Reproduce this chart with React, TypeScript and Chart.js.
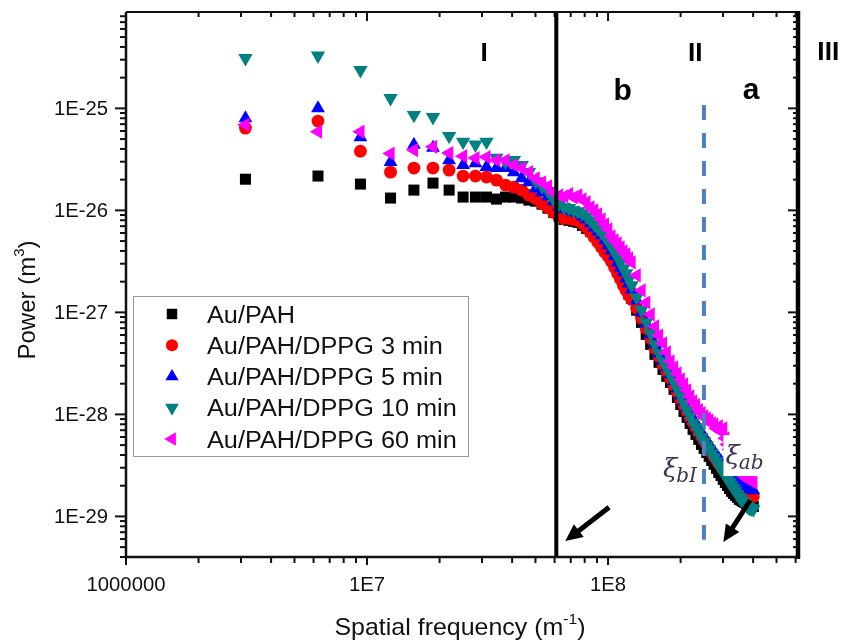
import React, { useEffect, useRef } from 'react';
import { Chart, registerables } from 'chart.js';
Chart.register(...registerables);

// ---------- data ----------
const frequency = [
  3.13e6, 6.26e6, 9.39e6, 1.252e7, 1.565e7, 1.878e7, 2.191e7, 2.504e7, 2.817e7, 3.13e7,
  3.443e7, 3.756e7, 4.069e7, 4.382e7, 4.695e7, 5.008e7, 5.321e7, 5.634e7, 5.947e7, 6.26e7,
  6.573e7, 6.886e7, 7.199e7, 7.512e7, 7.825e7, 8.138e7, 8.451e7, 8.764e7, 9.077e7, 9.39e7,
  9.703e7, 1.0016e8, 1.0329e8, 1.0642e8, 1.0955e8, 1.1268e8, 1.1581e8, 1.1894e8, 1.2207e8, 1.252e8,
  1.3146e8, 1.3772e8, 1.4398e8, 1.5024e8, 1.565e8, 1.6276e8, 1.6902e8, 1.7528e8, 1.8154e8, 1.878e8,
  1.9406e8, 2.0032e8, 2.0658e8, 2.1284e8, 2.191e8, 2.2536e8, 2.3162e8, 2.3788e8, 2.4414e8, 2.504e8,
  2.5666e8, 2.6292e8, 2.6918e8, 2.7544e8, 2.817e8, 2.8796e8, 2.9422e8, 3.0048e8, 3.0674e8, 3.13e8,
  3.1926e8, 3.2552e8, 3.3178e8, 3.3804e8, 3.443e8, 3.5056e8, 3.5682e8, 3.6308e8, 3.6934e8, 3.756e8,
  3.8186e8, 3.8812e8, 3.9438e8, 4.0064e8,
];

const powerAuPAH = [
  2.02e-26, 2.17e-26, 1.81e-26, 1.32e-26, 1.58e-26, 1.85e-26, 1.58e-26, 1.35e-26, 1.35e-26, 1.35e-26,
  1.29e-26, 1.35e-26, 1.35e-26, 1.32e-26, 1.26e-26, 1.23e-26, 1.15e-26, 1.05e-26, 9.56e-27, 8.73e-27,
  8.16e-27, 7.98e-27, 7.8e-27, 7.63e-27, 7.13e-27, 6.66e-27, 6.22e-27, 5.69e-27, 5.2e-27, 4.75e-27,
  4.24e-27, 3.79e-27, 3.38e-27, 2.96e-27, 2.58e-27, 2.25e-27, 1.97e-27, 1.72e-27, 1.5e-27, 1.37e-27,
  1.05e-27, 7.98e-28, 6.09e-28, 4.86e-28, 3.88e-28, 3.24e-28, 2.76e-28, 2.36e-28, 2.06e-28, 1.76e-28,
  1.47e-28, 1.25e-28, 1.07e-28, 9.35e-29, 8.16e-29, 7.13e-29, 6.37e-29, 5.69e-29, 5.08e-29, 4.64e-29,
  4.24e-29, 3.88e-29, 3.54e-29, 3.24e-29, 2.96e-29, 2.7e-29, 2.52e-29, 2.31e-29, 2.15e-29, 2.01e-29,
  1.88e-29, 1.76e-29, 1.68e-29, 1.61e-29, 1.54e-29, 1.47e-29, 1.44e-29, 1.4e-29, 1.37e-29, 1.34e-29,
  1.31e-29, 1.28e-29, 1.28e-29, 1.25e-29,
];
const powerDPPG3 = [
  6.4e-26, 7.5e-26, 3.8e-26, 2.37e-26, 2.6e-26, 2.6e-26, 2.48e-26, 2.17e-26, 2.17e-26, 2.12e-26,
  1.98e-26, 1.77e-26, 1.69e-26, 1.58e-26, 1.41e-26, 1.31e-26, 1.17e-26, 1.07e-26, 9.56e-27, 8.73e-27,
  8.35e-27, 8.35e-27, 8.16e-27, 7.98e-27, 7.46e-27, 6.81e-27, 6.09e-27, 5.44e-27, 4.86e-27, 4.34e-27,
  3.88e-27, 3.54e-27, 3.16e-27, 2.76e-27, 2.41e-27, 2.11e-27, 1.84e-27, 1.64e-27, 1.47e-27, 1.34e-27,
  1.1e-27, 8.73e-28, 6.97e-28, 5.56e-28, 4.44e-28, 3.7e-28, 3.09e-28, 2.64e-28, 2.25e-28, 1.92e-28,
  1.64e-28, 1.4e-28, 1.23e-28, 1.07e-28, 9.35e-29, 8.35e-29, 7.46e-29, 6.66e-29, 6.09e-29, 5.56e-29,
  5.08e-29, 4.64e-29, 4.24e-29, 3.88e-29, 3.62e-29, 3.31e-29, 3.09e-29, 2.89e-29, 2.7e-29, 2.52e-29,
  2.36e-29, 2.25e-29, 2.11e-29, 2.01e-29, 1.92e-29, 1.84e-29, 1.8e-29, 1.76e-29, 1.72e-29, 1.68e-29,
  1.64e-29, 1.61e-29, 1.61e-29, 1.57e-29,
];
const powerDPPG5 = [
  8.0e-26, 1.0e-25, 5.2e-26, 2.98e-26, 4.4e-26, 4.1e-26, 3.1e-26, 2.78e-26, 2.9e-26, 2.66e-26,
  2.6e-26, 2.6e-26, 2.37e-26, 2.07e-26, 1.89e-26, 1.64e-26, 1.5e-26, 1.37e-26, 1.23e-26, 1.1e-26,
  1.03e-26, 1.0e-26, 9.56e-27, 9.35e-27, 8.73e-27, 8.16e-27, 7.46e-27, 6.81e-27, 6.22e-27, 5.69e-27,
  5.08e-27, 4.54e-27, 4.05e-27, 3.54e-27, 3.09e-27, 2.76e-27, 2.47e-27, 2.15e-27, 1.92e-27, 1.68e-27,
  1.31e-27, 1.0e-27, 7.8e-28, 6.09e-28, 4.86e-28, 3.97e-28, 3.38e-28, 2.89e-28, 2.47e-28, 2.11e-28,
  1.8e-28, 1.54e-28, 1.34e-28, 1.17e-28, 1.03e-28, 9.14e-29, 8.16e-29, 7.29e-29, 6.51e-29, 5.95e-29,
  5.44e-29, 4.97e-29, 4.64e-29, 4.24e-29, 3.97e-29, 3.7e-29, 3.46e-29, 3.24e-29, 3.02e-29, 2.89e-29,
  2.7e-29, 2.58e-29, 2.47e-29, 2.36e-29, 2.25e-29, 2.2e-29, 2.11e-29, 2.06e-29, 2.01e-29, 1.97e-29,
  1.92e-29, 1.88e-29, 1.84e-29, 1.8e-29,
];
const powerDPPG10 = [
  3.11e-25, 3.28e-25, 2.37e-25, 1.26e-25, 8.6e-26, 8.2e-26, 5.35e-26, 4.7e-26, 4.4e-26, 4.7e-26,
  3.26e-26, 2.98e-26, 3.1e-26, 2.78e-26, 2.37e-26, 1.92e-26, 1.72e-26, 1.54e-26, 1.28e-26, 1.15e-26,
  1.07e-26, 1.05e-26, 1.0e-26, 9.78e-27, 9.35e-27, 8.73e-27, 7.98e-27, 7.29e-27, 6.66e-27, 6.09e-27,
  5.56e-27, 4.97e-27, 4.44e-27, 3.88e-27, 3.46e-27, 3.09e-27, 2.7e-27, 2.41e-27, 2.11e-27, 1.84e-27,
  1.4e-27, 1.05e-27, 7.98e-28, 6.22e-28, 4.86e-28, 3.97e-28, 3.31e-28, 2.83e-28, 2.41e-28, 2.06e-28,
  1.76e-28, 1.5e-28, 1.28e-28, 1.1e-28, 9.56e-29, 8.35e-29, 7.46e-29, 6.66e-29, 5.95e-29, 5.44e-29,
  4.97e-29, 4.54e-29, 4.15e-29, 3.79e-29, 3.46e-29, 3.16e-29, 2.96e-29, 2.7e-29, 2.52e-29, 2.31e-29,
  2.15e-29, 2.01e-29, 1.88e-29, 1.76e-29, 1.64e-29, 1.54e-29, 1.47e-29, 1.4e-29, 1.34e-29, 1.28e-29,
  1.23e-29, 1.2e-29, 1.2e-29, 1.17e-29,
];
const powerDPPG60 = [
  6.9e-26, 5.9e-26, 5.9e-26, 3.6e-26, 3.9e-26, 4.2e-26, 3.65e-26, 3.4e-26, 3.26e-26, 3.33e-26,
  3.1e-26, 3.1e-26, 2.78e-26, 2.6e-26, 2.37e-26, 2.06e-26, 1.88e-26, 1.72e-26, 1.5e-26, 1.4e-26,
  1.37e-26, 1.44e-26, 1.34e-26, 1.4e-26, 1.28e-26, 1.2e-26, 1.07e-26, 1.0e-26, 9.14e-27, 8.16e-27,
  7.29e-27, 6.51e-27, 5.56e-27, 5.08e-27, 4.75e-27, 4.34e-27, 3.97e-27, 3.7e-27, 3.38e-27, 3.09e-27,
  2.31e-27, 1.64e-27, 1.25e-27, 9.56e-28, 7.29e-28, 5.95e-28, 4.97e-28, 4.05e-28, 3.31e-28, 2.89e-28,
  2.52e-28, 2.2e-28, 1.97e-28, 1.72e-28, 1.5e-28, 1.34e-28, 1.23e-28, 1.1e-28, 1.03e-28, 9.56e-29,
  9.14e-29, 8.73e-29, 8.16e-29, 7.98e-29, 7.29e-29, 7.63e-29, 6.81e-29, 7.29e-29, 5.82e-29, 5.08e-29,
  4.54e-29, 4.05e-29, 3.7e-29, 3.38e-29, 3.09e-29, 2.89e-29, 2.7e-29, 2.58e-29, 2.47e-29, 2.36e-29,
  2.31e-29, 2.25e-29, 2.2e-29, 2.15e-29,
];

const seriesNames = ['Au/PAH', 'Au/PAH/DPPG 3 min', 'Au/PAH/DPPG 5 min', 'Au/PAH/DPPG 10 min', 'Au/PAH/DPPG 60 min'];
const seriesValues = [powerAuPAH, powerDPPG3, powerDPPG5, powerDPPG10, powerDPPG60];

const xTickValues = [1e6, 1e7, 1e8];
const xTickLabels = ['1000000', '1E7', '1E8'];
const yTickValues = [1e-25, 1e-26, 1e-27, 1e-28, 1e-29];
const yTickLabels = ['1E-25', '1E-26', '1E-27', '1E-28', '1E-29'];

const xRange = [1e6, 6.14e8];
const yRange = [4.0e-30, 8.8e-25];

// region boundaries and annotations (data coordinates)
const boundaryI_II = 6.1e7;
const boundaryBA = 2.5e8;
const boundaryBAspan = [1.08e-25, 5.9e-30];
const regionLabels = [
  { text: 'I', x: 3.06e7, y: 2.91e-25 },
  { text: 'II', x: 2.3e8, y: 2.91e-25 },
  { text: 'III', x: 8.2e8, y: 2.98e-25 },
];
const subRegionLabels = [
  { text: 'b', x: 1.15e8, y: 1.2e-25 },
  { text: 'a', x: 3.92e8, y: 1.23e-25 },
];
const arrowList = [
  { x1: 1.01e8, y1: 1.23e-29, x2: 6.65e7, y2: 5.73e-30 },
  { x1: 3.89e8, y1: 1.44e-29, x2: 3.01e8, y2: 5.6e-30 },
];
const xiLabels = [
  { sub: 'bI', x: 1.69e8, y: 2.45e-29, box: false },
  { sub: 'ab', x: 3.07e8, y: 3.26e-29, box: true },
];

// ---------- styles ----------
const seriesStyles = [
  { color: '#000000', shape: 'rect', radius: 7.8, rotation: 0 },
  { color: '#ff0000', shape: 'circle', radius: 6.4, rotation: 0 },
  { color: '#0000ff', shape: 'triangle', radius: 8, rotation: 0 },
  { color: '#008080', shape: 'triangle', radius: 8.3, rotation: 180 },
  { color: '#ff00ff', shape: 'triangle', radius: 8.2, rotation: 270 },
];

const SANS = "'Liberation Sans', Arial, Helvetica, sans-serif";

function drawShape(ctx: CanvasRenderingContext2D, shape: string, x: number, y: number, r: number, rotDeg: number) {
  ctx.beginPath();
  if (shape === 'circle') {
    ctx.arc(x, y, r, 0, Math.PI * 2);
  } else if (shape === 'rect') {
    const h = r * Math.SQRT1_2;
    ctx.rect(x - h, y - h, 2 * h, 2 * h);
  } else {
    let rad = (rotDeg * Math.PI) / 180;
    ctx.moveTo(x + Math.sin(rad) * r, y - Math.cos(rad) * r);
    rad += (2 * Math.PI) / 3;
    ctx.lineTo(x + Math.sin(rad) * r, y - Math.cos(rad) * r);
    rad += (2 * Math.PI) / 3;
    ctx.lineTo(x + Math.sin(rad) * r, y - Math.cos(rad) * r);
    ctx.closePath();
  }
  ctx.fill();
}

type Part = { t: string; font: string; dy?: number };
function richText(ctx: CanvasRenderingContext2D, parts: Part[], x: number, y: number, align: string, sx = 1) {
  ctx.save();
  ctx.translate(x, y);
  ctx.scale(sx, 1);
  let total = 0;
  for (const p of parts) {
    ctx.font = p.font;
    total += ctx.measureText(p.t).width;
  }
  let cx = align === 'center' ? -total / 2 : align === 'right' ? -total : 0;
  ctx.textAlign = 'left';
  ctx.textBaseline = 'alphabetic';
  for (const p of parts) {
    ctx.font = p.font;
    ctx.fillText(p.t, cx, p.dy || 0);
    cx += ctx.measureText(p.t).width;
  }
  ctx.restore();
}

function logTicks(min: number, max: number) {
  const out: { v: number; major: boolean }[] = [];
  const d0 = Math.floor(Math.log10(min));
  const d1 = Math.ceil(Math.log10(max));
  for (let d = d0; d <= d1; d++) {
    for (let m = 1; m <= 9; m++) {
      const v = m * Math.pow(10, d);
      if (v >= min * 0.9999 && v <= max * 1.0001) out.push({ v, major: m === 1 });
    }
  }
  return out;
}

const decorPlugin = {
  id: 'decor',
  afterDatasetsDraw(chart: any) {
    const ctx: CanvasRenderingContext2D = chart.ctx;
    const a = chart.chartArea;
    const xs = chart.scales.x;
    const ys = chart.scales.y;
    const X = (v: number) => xs.getPixelForValue(v);
    const Y = (v: number) => ys.getPixelForValue(v);
    const seg = (x1: number, y1: number, x2: number, y2: number) => {
      ctx.beginPath();
      ctx.moveTo(x1, y1);
      ctx.lineTo(x2, y2);
      ctx.stroke();
    };
    ctx.save();

    // region I / II boundary
    ctx.strokeStyle = '#000';
    ctx.lineWidth = 4;
    const bx = X(boundaryI_II);
    seg(bx, a.top, bx, a.bottom);

    // b / a dashed boundary
    ctx.strokeStyle = '#4f81bd';
    ctx.lineWidth = 4;
    ctx.setLineDash([15, 13]);
    const dx = X(boundaryBA);
    seg(dx, Y(boundaryBAspan[0]), dx, Y(boundaryBAspan[1]));
    ctx.setLineDash([]);

    // frame
    ctx.strokeStyle = '#111';
    ctx.lineWidth = 2;
    seg(a.left, a.top, a.right, a.top);
    ctx.lineWidth = 2.5;
    seg(a.left, a.top, a.left, a.bottom + 1);
    seg(a.left - 1, a.bottom, a.right, a.bottom);
    ctx.strokeStyle = '#000';
    ctx.lineWidth = 4.5;
    seg(a.right, a.top - 1, a.right, a.bottom + 2);

    // ticks
    ctx.strokeStyle = '#111';
    ctx.lineWidth = 2;
    for (const t of logTicks(xRange[0], xRange[1])) {
      const px = X(t.v);
      seg(px, a.bottom, px, a.bottom + (t.major ? 8 : 6));
      seg(px, a.top, px, a.top + (t.major ? 9 : 5));
    }
    for (const t of logTicks(yRange[0], yRange[1])) {
      const py = Y(t.v);
      seg(a.left, py, a.left - (t.major ? 11 : 6), py);
      seg(a.right, py, a.right - (t.major ? 10 : 5), py);
    }

    // tick labels
    ctx.fillStyle = '#111';
    xTickValues.forEach((v, i) => {
      richText(ctx, [{ t: xTickLabels[i], font: `19.5px ${SANS}` }], X(v), a.bottom + 34, 'center', 1.04);
    });
    yTickValues.forEach((v, i) => {
      richText(ctx, [{ t: yTickLabels[i], font: `19.5px ${SANS}` }], a.left - 18, Y(v) + 7, 'right', 1.04);
    });

    // axis titles
    const tf = `24px ${SANS}`;
    const sf = `15px ${SANS}`;
    richText(
      ctx,
      [
        { t: 'Spatial frequency (m', font: tf },
        { t: '-1', font: sf, dy: -11 },
        { t: ')', font: tf },
      ],
      (a.left + a.right) / 2 - 2,
      635,
      'center',
      1.04,
    );
    ctx.save();
    ctx.translate(35, 300);
    ctx.rotate(-Math.PI / 2);
    richText(
      ctx,
      [
        { t: 'Power (m', font: tf },
        { t: '3', font: sf, dy: -11 },
        { t: ')', font: tf },
      ],
      0,
      0,
      'center',
      1,
    );
    ctx.restore();

    // region labels
    ctx.fillStyle = '#000';
    for (const l of regionLabels) {
      richText(ctx, [{ t: l.text, font: `bold 25px ${SANS}` }], X(l.x), Y(l.y), 'center', 1.05);
    }
    for (const l of subRegionLabels) {
      richText(ctx, [{ t: l.text, font: `bold 30px ${SANS}` }], X(l.x), Y(l.y), 'center', 1.0);
    }

    // xi labels
    for (const l of xiLabels) {
      const px = X(l.x);
      const py = Y(l.y);
      const xiFont = "italic 26px 'DejaVu Serif', serif";
      const subFont = "italic 20px 'DejaVu Serif', serif";
      ctx.font = xiFont;
      const w1 = ctx.measureText('ξ').width;
      ctx.font = subFont;
      const w2 = ctx.measureText(l.sub).width;
      if (l.box) {
        ctx.fillStyle = '#fff';
        ctx.fillRect(px - 2, py - 29, w1 + w2 + 4, 41);
      }
      ctx.fillStyle = '#3c3552';
      ctx.textAlign = 'left';
      ctx.textBaseline = 'alphabetic';
      ctx.font = xiFont;
      ctx.fillText('ξ', px, py);
      ctx.font = subFont;
      ctx.fillText(l.sub, px + w1 - 1, py + 5);
    }

    // arrows
    ctx.strokeStyle = '#000';
    ctx.fillStyle = '#000';
    ctx.lineWidth = 5;
    for (const ar of arrowList) {
      const x1 = X(ar.x1), y1 = Y(ar.y1), x2 = X(ar.x2), y2 = Y(ar.y2);
      const ang = Math.atan2(y2 - y1, x2 - x1);
      const hl = 17, hw = 8;
      const bx2 = x2 - Math.cos(ang) * hl;
      const by2 = y2 - Math.sin(ang) * hl;
      seg(x1, y1, bx2 + Math.cos(ang) * 2, by2 + Math.sin(ang) * 2);
      ctx.beginPath();
      ctx.moveTo(x2, y2);
      ctx.lineTo(bx2 + Math.sin(ang) * hw, by2 - Math.cos(ang) * hw);
      ctx.lineTo(bx2 - Math.sin(ang) * hw, by2 + Math.cos(ang) * hw);
      ctx.closePath();
      ctx.fill();
    }

    // legend
    const lx = a.left + 7, ly = 296, lw = 335, lh = 160;
    ctx.fillStyle = '#fff';
    ctx.fillRect(lx, ly, lw, lh);
    ctx.strokeStyle = '#9a9a9a';
    ctx.lineWidth = 1;
    ctx.strokeRect(lx + 0.5, ly + 0.5, lw, lh);
    seriesNames.forEach((name, i) => {
      const st = seriesStyles[i];
      const cy = 314 + i * 31.25;
      ctx.fillStyle = st.color;
      drawShape(ctx, st.shape, lx + 39, cy, st.radius * 0.95, st.rotation);
      ctx.fillStyle = '#111';
      richText(ctx, [{ t: name, font: `23px ${SANS}` }], lx + 74, cy + 8.5, 'left', 1.1);
    });

    ctx.restore();
  },
};

export default function App() {
  const ref = useRef<HTMLCanvasElement>(null);
  useEffect(() => {
    document.body.style.margin = '0';
    const datasets = seriesNames.map((name, i) => ({
      label: name,
      data: frequency.map((f, k) => ({ x: f, y: seriesValues[i][k] })),
      showLine: false,
      pointStyle: seriesStyles[i].shape,
      pointRadius: seriesStyles[i].radius,
      pointRotation: seriesStyles[i].rotation,
      pointBackgroundColor: seriesStyles[i].color,
      pointBorderColor: seriesStyles[i].color,
      pointBorderWidth: 0,
      order: seriesNames.length - i,
    }));
    const chart = new Chart(ref.current as HTMLCanvasElement, {
      type: 'scatter',
      data: { datasets } as any,
      options: {
        animation: false,
        responsive: false,
        devicePixelRatio: 1,
        layout: { padding: { left: 126, right: 45, top: 12, bottom: 85 } },
        scales: {
          x: { type: 'logarithmic', min: xRange[0], max: xRange[1], display: false },
          y: { type: 'logarithmic', min: yRange[0], max: yRange[1], display: false },
        },
        plugins: { legend: { display: false }, tooltip: { enabled: false } },
      } as any,
      plugins: [decorPlugin],
    });
    return () => chart.destroy();
  }, []);
  return (
    <div style={{ width: 843, height: 642, background: '#fff' }}>
      <canvas ref={ref} width={843} height={642} style={{ display: 'block' }} />
    </div>
  );
}
